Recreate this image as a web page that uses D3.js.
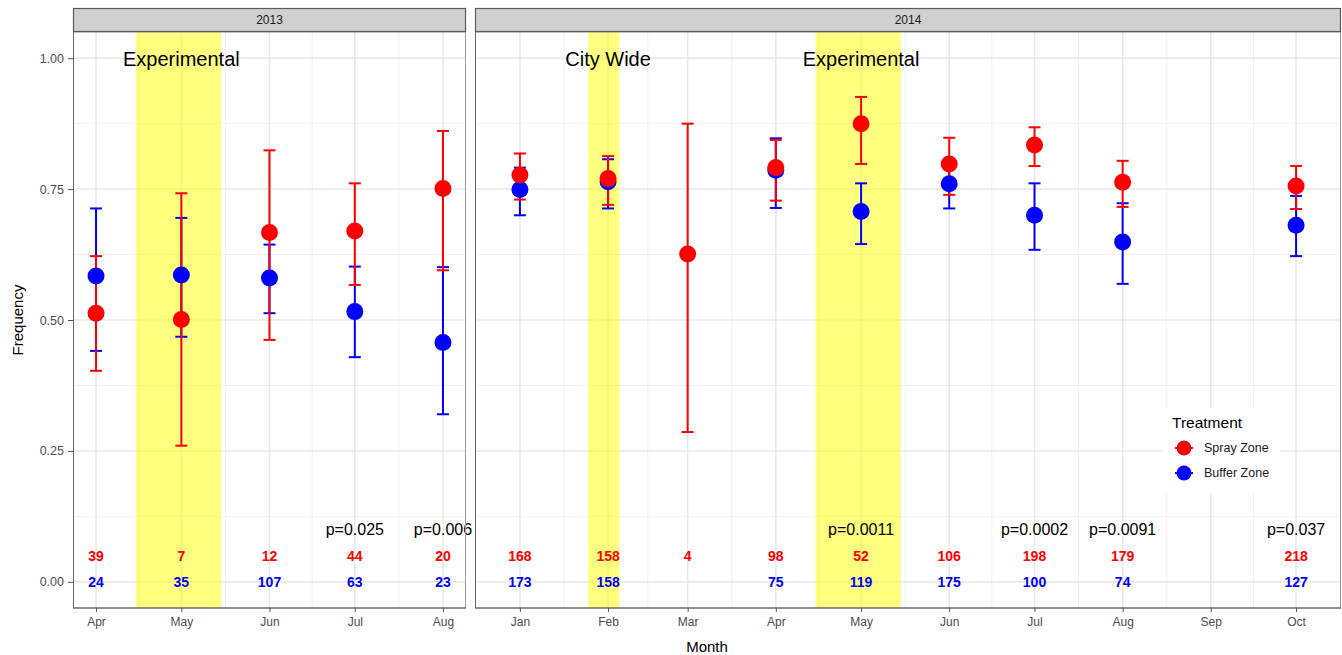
<!DOCTYPE html>
<html>
<head>
<meta charset="utf-8">
<script src="https://cdn.jsdelivr.net/npm/d3@7"></script>
<style>
  body { margin: 0; background: #fff; }
  text { font-family: "Liberation Sans", Arial, sans-serif; }
</style>
</head>
<body>
<div id="chart"></div>
<script>
// ---- data ----
var years = ["2013", "2014"];

var months2013 = ["2013-04-01", "2013-05-01", "2013-06-01", "2013-07-01", "2013-08-01"];
var spray2013 = [0.513, 0.501, 0.667, 0.670, 0.751];
var sprayLow2013 = [0.403, 0.260, 0.462, 0.567, 0.595];
var sprayHigh2013 = [0.622, 0.742, 0.824, 0.761, 0.861];
var buffer2013 = [0.584, 0.586, 0.580, 0.516, 0.457];
var bufferLow2013 = [0.441, 0.468, 0.513, 0.429, 0.320];
var bufferHigh2013 = [0.713, 0.695, 0.644, 0.602, 0.601];
var sprayN2013 = [39, 7, 12, 44, 20];
var bufferN2013 = [24, 35, 107, 63, 23];
var pValues2013 = [null, null, null, "p=0.025", "p=0.006"];

var months2014 = ["2014-01-01", "2014-02-01", "2014-03-01", "2014-04-01", "2014-05-01",
                  "2014-06-01", "2014-07-01", "2014-08-01", "2014-10-01"];
var spray2014 = [0.777, 0.770, 0.626, 0.791, 0.875, 0.798, 0.834, 0.763, 0.756];
var sprayLow2014 = [0.730, 0.720, 0.286, 0.728, 0.798, 0.739, 0.794, 0.716, 0.712];
var sprayHigh2014 = [0.818, 0.813, 0.875, 0.844, 0.926, 0.848, 0.868, 0.804, 0.794];
var buffer2014 = [0.749, 0.764, null, 0.786, 0.707, 0.760, 0.700, 0.649, 0.681];
var bufferLow2014 = [0.700, 0.713, null, 0.714, 0.645, 0.713, 0.634, 0.569, 0.622];
var bufferHigh2014 = [0.791, 0.807, null, 0.847, 0.761, 0.802, 0.761, 0.723, 0.737];
var sprayN2014 = [168, 158, 4, 98, 52, 106, 198, 179, 218];
var bufferN2014 = [173, 158, null, 75, 119, 175, 100, 74, 127];
var pValues2014 = [null, null, null, null, "p=0.0011", null, "p=0.0002", "p=0.0091", "p=0.037"];

var ticks2013 = ["2013-04-01", "2013-05-01", "2013-06-01", "2013-07-01", "2013-08-01"];
var ticks2014 = ["2014-01-01", "2014-02-01", "2014-03-01", "2014-04-01", "2014-05-01",
                 "2014-06-01", "2014-07-01", "2014-08-01", "2014-09-01", "2014-10-01"];

var shade2013 = [["2013-04-15", "2013-05-15"]];
var shade2014 = [["2014-01-25", "2014-02-05"], ["2014-04-15", "2014-05-15"]];
var periodLabels2013 = [["2013-05-01", "Experimental"]];
var periodLabels2014 = [["2014-02-01", "City Wide"], ["2014-05-01", "Experimental"]];

var yTicks = [0, 0.25, 0.5, 0.75, 1];
var treatments = ["Spray Zone", "Buffer Zone"];
var colors = { "Spray Zone": "#ff0000", "Buffer Zone": "#0000ff" };

// ---- layout ----
var svgWidth = 1342, svgHeight = 655;
var stripTop = 8, panelTop = 32, panelBottom = 608;
var parse = d3.utcParse("%Y-%m-%d");
var dayMs = 864e5;

var svg = d3.select("#chart").append("svg")
  .attr("width", svgWidth)
  .attr("height", svgHeight);

var y = d3.scaleLinear().domain([-0.05, 1.05]).range([panelBottom, panelTop]);

function rows(months, sp, spL, spH, bu, buL, buH, spN, buN, pv) {
  return months.map(function (m, i) {
    return {
      date: parse(m),
      spray: sp[i], sprayLow: spL[i], sprayHigh: spH[i],
      buffer: bu[i], bufferLow: buL[i], bufferHigh: buH[i],
      sprayN: spN[i], bufferN: buN[i], p: pv[i]
    };
  });
}

var panels = [
  {
    year: years[0], left: 73, right: 466, pad: 8.1,
    ticks: ticks2013, shade: shade2013, labels: periodLabels2013,
    data: rows(months2013, spray2013, sprayLow2013, sprayHigh2013, buffer2013,
               bufferLow2013, bufferHigh2013, sprayN2013, bufferN2013, pValues2013)
  },
  {
    year: years[1], left: 475, right: 1341, pad: 15.8,
    ticks: ticks2014, shade: shade2014, labels: periodLabels2014,
    data: rows(months2014, spray2014, sprayLow2014, sprayHigh2014, buffer2014,
               bufferLow2014, bufferHigh2014, sprayN2014, bufferN2014, pValues2014)
  }
];

panels.forEach(function (p) {
  var t0 = parse(p.ticks[0]), t1 = parse(p.ticks[p.ticks.length - 1]);
  var x = d3.scaleUtc()
    .domain([new Date(+t0 - p.pad * dayMs), new Date(+t1 + p.pad * dayMs)])
    .range([p.left, p.right]);
  var tickDates = p.ticks.map(parse);
  var g = svg.append("g");

  var clipId = "clip" + p.year;
  svg.append("clipPath").attr("id", clipId)
    .append("rect")
    .attr("x", p.left).attr("y", panelTop)
    .attr("width", p.right - p.left).attr("height", panelBottom - panelTop);

  // background
  g.append("rect")
    .attr("x", p.left).attr("y", panelTop)
    .attr("width", p.right - p.left).attr("height", panelBottom - panelTop)
    .attr("fill", "#fff");

  // minor grid
  var minorX = d3.pairs(tickDates).map(function (d) { return new Date((+d[0] + +d[1]) / 2); });
  var minorY = d3.pairs(yTicks).map(function (d) { return (d[0] + d[1]) / 2; });
  g.selectAll(".minx").data(minorX).enter().append("line")
    .attr("x1", function (d) { return x(d); }).attr("x2", function (d) { return x(d); })
    .attr("y1", panelTop).attr("y2", panelBottom)
    .attr("stroke", "#f0f0f0").attr("stroke-width", 1);
  g.selectAll(".miny").data(minorY).enter().append("line")
    .attr("x1", p.left).attr("x2", p.right)
    .attr("y1", function (d) { return y(d); }).attr("y2", function (d) { return y(d); })
    .attr("stroke", "#f0f0f0").attr("stroke-width", 1);

  // major grid
  g.selectAll(".majx").data(tickDates).enter().append("line")
    .attr("x1", function (d) { return x(d); }).attr("x2", function (d) { return x(d); })
    .attr("y1", panelTop).attr("y2", panelBottom)
    .attr("stroke", "#e8e8e8").attr("stroke-width", 1.5);
  g.selectAll(".majy").data(yTicks).enter().append("line")
    .attr("x1", p.left).attr("x2", p.right)
    .attr("y1", function (d) { return y(d); }).attr("y2", function (d) { return y(d); })
    .attr("stroke", "#e8e8e8").attr("stroke-width", 1.5);

  // shaded periods
  g.selectAll(".shade").data(p.shade).enter().append("rect")
    .attr("x", function (d) { return x(parse(d[0])); })
    .attr("width", function (d) { return x(parse(d[1])) - x(parse(d[0])); })
    .attr("y", panelTop).attr("height", panelBottom - panelTop)
    .attr("fill", "#ffff00").attr("opacity", 0.5);

  // period labels
  g.selectAll(".plab").data(p.labels).enter().append("text")
    .attr("x", function (d) { return x(parse(d[0])); })
    .attr("y", y(1) + 1)
    .attr("text-anchor", "middle")
    .attr("dominant-baseline", "central")
    .attr("font-size", "20px")
    .attr("fill", "#000")
    .text(function (d) { return d[1]; });

  var marks = g.append("g").attr("clip-path", "url(#" + clipId + ")");
  var capW = 6;

  // error bars, blue then red
  [["buffer", colors["Buffer Zone"]], ["spray", colors["Spray Zone"]]].forEach(function (s) {
    var key = s[0], col = s[1];
    var d = p.data.filter(function (r) { return r[key] != null; });
    var eb = marks.selectAll(".eb-" + key).data(d).enter().append("g");
    eb.append("line")
      .attr("x1", function (r) { return x(r.date); }).attr("x2", function (r) { return x(r.date); })
      .attr("y1", function (r) { return y(r[key + "Low"]); })
      .attr("y2", function (r) { return y(r[key + "High"]); })
      .attr("stroke", col).attr("stroke-width", 2);
    ["Low", "High"].forEach(function (end) {
      eb.append("line")
        .attr("x1", function (r) { return x(r.date) - capW; })
        .attr("x2", function (r) { return x(r.date) + capW; })
        .attr("y1", function (r) { return y(r[key + end]); })
        .attr("y2", function (r) { return y(r[key + end]); })
        .attr("stroke", col).attr("stroke-width", 2);
    });
  });

  // points, blue then red
  [["buffer", colors["Buffer Zone"]], ["spray", colors["Spray Zone"]]].forEach(function (s) {
    var key = s[0], col = s[1];
    marks.selectAll(".pt-" + key)
      .data(p.data.filter(function (r) { return r[key] != null; }))
      .enter().append("circle")
      .attr("cx", function (r) { return x(r.date); })
      .attr("cy", function (r) { return y(r[key]); })
      .attr("r", 8.5)
      .attr("fill", col);
  });

  // p-values and counts
  g.selectAll(".pv").data(p.data.filter(function (r) { return r.p; })).enter().append("text")
    .attr("x", function (r) { return x(r.date); })
    .attr("y", y(0.1))
    .attr("text-anchor", "middle").attr("dominant-baseline", "central")
    .attr("font-size", "16px").attr("fill", "#000")
    .text(function (r) { return r.p; });
  g.selectAll(".ns").data(p.data.filter(function (r) { return r.sprayN != null; })).enter().append("text")
    .attr("x", function (r) { return x(r.date); })
    .attr("y", y(0.05))
    .attr("text-anchor", "middle").attr("dominant-baseline", "central")
    .attr("font-size", "14px").attr("font-weight", "bold").attr("fill", colors["Spray Zone"])
    .text(function (r) { return r.sprayN; });
  g.selectAll(".nb").data(p.data.filter(function (r) { return r.bufferN != null; })).enter().append("text")
    .attr("x", function (r) { return x(r.date); })
    .attr("y", y(0))
    .attr("text-anchor", "middle").attr("dominant-baseline", "central")
    .attr("font-size", "14px").attr("font-weight", "bold").attr("fill", colors["Buffer Zone"])
    .text(function (r) { return r.bufferN; });

  // panel border
  g.append("rect")
    .attr("x", p.left + 0.5).attr("y", panelTop)
    .attr("width", p.right - p.left - 1).attr("height", panelBottom - panelTop)
    .attr("fill", "none").attr("stroke", "#9a9a9a").attr("stroke-width", 1);

  // strip
  g.append("rect")
    .attr("x", p.left + 0.5).attr("y", stripTop + 0.5)
    .attr("width", p.right - p.left - 1).attr("height", panelTop - stripTop - 1)
    .attr("fill", "#d0d0d0").attr("stroke", "#5a5a5a").attr("stroke-width", 1.2);
  g.append("text")
    .attr("x", (p.left + p.right) / 2).attr("y", (stripTop + panelTop) / 2)
    .attr("text-anchor", "middle").attr("dominant-baseline", "central")
    .attr("font-size", "12px").attr("fill", "#1a1a1a")
    .text(p.year);

  // x axis
  var xAxis = d3.axisBottom(x).tickValues(tickDates)
    .tickFormat(d3.utcFormat("%b")).tickSize(4).tickPadding(5);
  var ax = svg.append("g").attr("transform", "translate(0," + panelBottom + ")").call(xAxis);
  ax.select(".domain").attr("stroke", "#555").attr("d", "M" + p.left + ",0H" + p.right);
  ax.selectAll(".tick line").attr("stroke", "#555");
  ax.selectAll(".tick text").attr("font-size", "12px").attr("fill", "#4d4d4d")
    .attr("font-family", "Liberation Sans, Arial, sans-serif");

  // left axis line
  svg.append("line")
    .attr("x1", p.left + 0.5).attr("x2", p.left + 0.5)
    .attr("y1", panelTop).attr("y2", panelBottom)
    .attr("stroke", "#666").attr("stroke-width", 1);
});

// y axis (first panel only)
var yAxis = d3.axisLeft(y).tickValues(yTicks).tickFormat(d3.format(".2f")).tickSize(5).tickPadding(4);
var ya = svg.append("g").attr("transform", "translate(73,0)").call(yAxis);
ya.select(".domain").remove();
ya.selectAll(".tick line").attr("stroke", "#555");
ya.selectAll(".tick text").attr("font-size", "12.5px").attr("fill", "#4d4d4d")
  .attr("font-family", "Liberation Sans, Arial, sans-serif");

// axis titles
svg.append("text")
  .attr("x", 707).attr("y", 646)
  .attr("text-anchor", "middle").attr("dominant-baseline", "central")
  .attr("font-size", "15px").attr("fill", "#000")
  .text("Month");
svg.append("text")
  .attr("transform", "translate(17," + (panelTop + panelBottom) / 2 + ") rotate(-90)")
  .attr("text-anchor", "middle").attr("dominant-baseline", "central")
  .attr("font-size", "15px").attr("fill", "#000")
  .text("Frequency");

// legend
var legend = svg.append("g").attr("transform", "translate(1162,408)");
legend.append("rect").attr("width", 118).attr("height", 86).attr("fill", "#fff");
legend.append("text")
  .attr("x", 10).attr("y", 14)
  .attr("dominant-baseline", "central")
  .attr("font-size", "15.5px").attr("fill", "#000")
  .text("Treatment");
var items = legend.selectAll(".item").data(treatments).enter().append("g")
  .attr("transform", function (d, i) { return "translate(22," + (40 + i * 25) + ")"; });
items.append("line")
  .attr("x1", -9).attr("x2", 9)
  .attr("stroke", function (d) { return colors[d]; }).attr("stroke-width", 2);
items.append("circle")
  .attr("r", 7.5)
  .attr("fill", function (d) { return colors[d]; });
items.append("text")
  .attr("x", 20)
  .attr("dominant-baseline", "central")
  .attr("font-size", "12.5px").attr("fill", "#1a1a1a")
  .text(function (d) { return d; });
</script>
</body>
</html>
